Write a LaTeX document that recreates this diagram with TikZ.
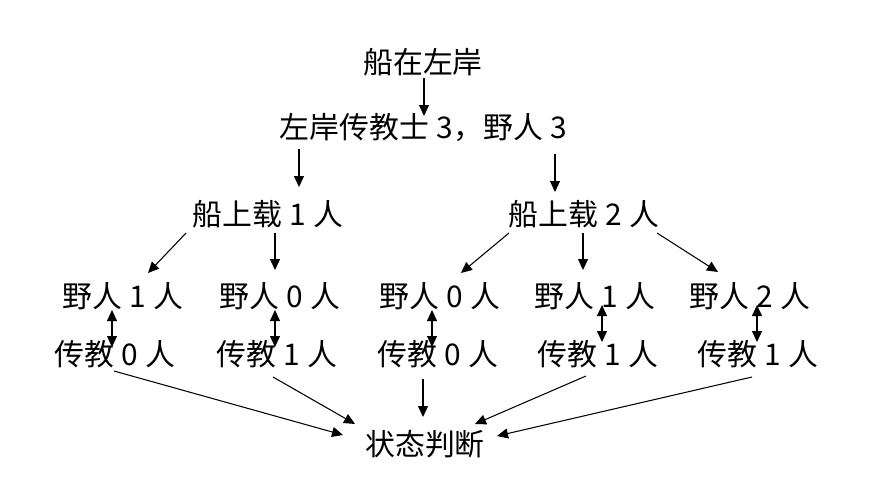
\documentclass[tikz,border=0pt]{standalone}
\usepackage{fontspec}
\setmainfont{Noto Sans CJK SC}
\usetikzlibrary{arrows.meta,calc}
\newcommand\dg[1]{\makebox[0.6em]{#1}}
\begin{document}
\begin{tikzpicture}[x=0.2mm, y=-0.2mm, line join=round, line width=0.6pt, >={Triangle[length=2.2mm,width=2mm]}, font=\fontsize{17}{20}\selectfont]
	\useasboundingbox (0,0) rectangle (894,494);
	\node (boat) at (423,62) {船在左岸};
	\node (left) at (424,128) {左岸传教士 \dg{3}，野人 \dg{3}};
	\node (one) at (268,214) {船上载 \dg{1} 人};
	\node (two) at (584,214) {船上载 \dg{2} 人};
	\node (judge) at (425,444) {状态判断};
	% 野人 / 传教 rows
	\foreach \n/\x/\k in {sa/123/1, sb/280/0, sc/440/0, sd/595/1, se/750/2}
	\node (\n) at (\x,296) {野人 \dg{\k} 人};
	\foreach \n/\x/\k in {ma/115/0, mb/277/1, mc/438/0, md/598/1, me/758/1}
	\node (\n) at (\x,354) {传教 \dg{\k} 人};
	\draw[->]
	($(boat)+(1,16)$) -- ($(left)+(0,-12)$);
	\draw[->]
	($(left)+(-125,21)$) -- ($(one)+(31,-27)$);
	\draw[->]
	($(left)+(131,26)$) -- ($(two)+(-29,-22)$);
	\draw[->] ($(one)+(-82,19)$) -- ($(sa)+(25,-23)$);
	\draw[->] ($(one)+(7,19)$) -- ($(sb)+(-5,-26)$);
	\draw[->] ($(two)+(-75,19)$) -- ($(sc)+(21,-23)$);
	\draw[->] ($(two)+(-1,19)$) -- ($(sd)+(-12,-26)$);
	\draw[->] ($(two)+(73,19)$) -- ($(se)+(-32,-24)$);
	% double arrows
	\foreach \s/\m/\a/\b/\c/\d in {sa/ma/-11/14/-3/-7, sb/mb/-5/14/-2/-7, sc/mc/-8/14/-6/-7, sd/md/7/9/4/-12, se/me/7/9/-1/-12}
	\draw[<->] ($(\s)+(\a,\b)$) -- ($(\m)+(\c,\d)$);
	% to judge
	\draw[->] ($(ma)+(-1,17)$) -- ($(judge)+(-82,-9)$);
	\draw[->] ($(mb)+(-4,23)$) -- ($(judge)+(-70,-20)$);
	\draw[->] ($(mc)+(-15,25)$) -- ($(judge)+(-2,-27)$);
	\draw[->] ($(md)+(-12,22)$) -- ($(judge)+(50,-20)$);
	\draw[->] ($(me)+(-6,23)$) -- ($(judge)+(72,-8)$);
\end{tikzpicture}
\end{document}
